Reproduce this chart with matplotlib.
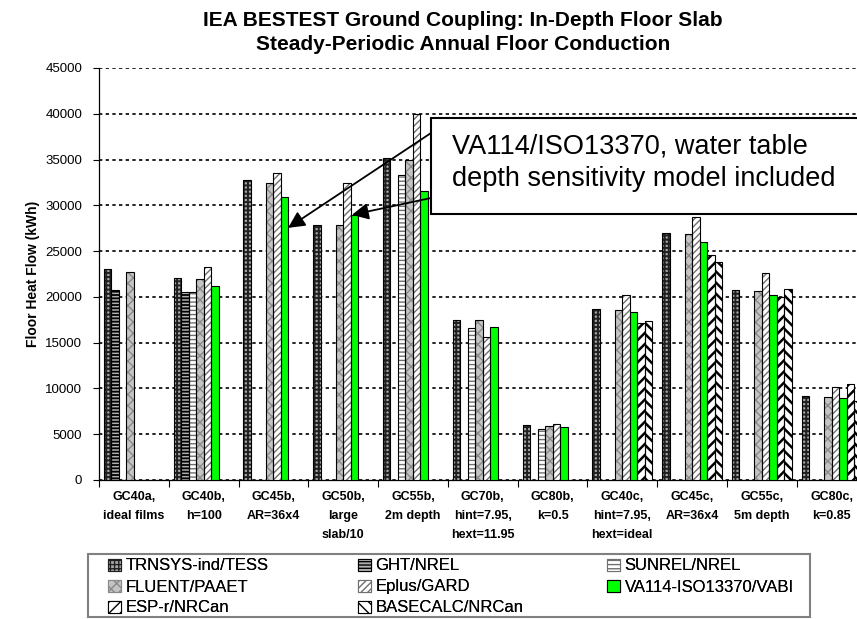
import numpy as np
import matplotlib
matplotlib.use("Agg")
import matplotlib.pyplot as plt
from matplotlib.patches import Patch, Rectangle

plt.rcParams['font.family'] = ['Liberation Sans', 'DejaVu Sans']
plt.rcParams['hatch.linewidth'] = 1.0

nan = np.nan
categories = ["GC40a,\nideal films", "GC40b,\nh=100", "GC45b,\nAR=36x4",
              "GC50b,\nlarge\nslab/10", "GC55b,\n2m depth",
              "GC70b,\nhint=7.95,\nhext=11.95", "GC80b,\nk=0.5",
              "GC40c,\nhint=7.95,\nhext=ideal", "GC45c,\nAR=36x4",
              "GC55c,\n5m depth", "GC80c,\nk=0.85"]

trnsys   = [23030, 22110, 32790, 27800, 35160, 17450, 5970, 18650, 26960, 20770, 9220]
ght      = [20770, 20550, nan, nan, nan, nan, nan, nan, nan, nan, nan]
sunrel   = [nan, 20550, nan, nan, 33260, 16580, 5610, nan, nan, nan, nan]
fluent   = [22770, 21930, 32460, 27800, 34970, 17450, 5870, 18540, 26890, 20660, 9070]
eplus    = [nan, 23240, 33480, 32420, 40000, 15590, 6120, 20220, 28710, 22590, 10160]
va114    = [nan, 21240, 30890, 28960, 31590, 16760, 5760, 18320, 25970, 20220, 8930]
espr     = [nan, nan, nan, nan, nan, nan, nan, 17120, 24550, 19960, 10460]
basecalc = [nan, nan, nan, nan, nan, nan, nan, 17340, 23860, 20870, 8630]

series_names = ["TRNSYS-ind/TESS", "GHT/NREL", "SUNREL/NREL", "FLUENT/PAAET",
                "Eplus/GARD", "VA114-ISO13370/VABI", "ESP-r/NRCan", "BASECALC/NRCan"]
series_vals = [trnsys, ght, sunrel, fluent, eplus, va114, espr, basecalc]

# (facecolor, hatch, hatchcolor, hatch linewidth)
styles = [
    ("#a8a8a8", "++++", "#202020", 1.4),
    ("#b0b0b0", "-----", "#000000", 1.3),
    ("#ffffff", "----", "#707070", 1.0),
    ("#c4c4c4", "xxx", "#8a8a8a", 1.0),
    ("#ffffff", "/////", "#707070", 1.0),
    ("#00ff00", None, "#000000", 1.0),
    ("#ffffff", "///", "#000000", 1.8),
    ("#ffffff", "\\\\\\", "#000000", 1.8),
]

W, H = 857, 619
fig = plt.figure(figsize=(W / 100, H / 100), dpi=100)
ax = fig.add_axes([99 / W, (H - 480) / H, 767.5 / W, 412 / H])

x = np.arange(len(categories))
bw = 0.1075
for i, (vals, (fc, hatch, hc, hlw)) in enumerate(zip(series_vals, styles)):
    pos = x + (i - 3.5) * bw
    v = np.array(vals, dtype=float)
    with plt.rc_context({'hatch.linewidth': hlw}):
        ax.bar(pos, v, width=bw, facecolor=fc, edgecolor=hc, hatch=hatch,
               linewidth=0, zorder=3)
    ax.bar(pos, v, width=bw, fill=False, edgecolor="black", linewidth=0.8, zorder=4)

ax.set_xlim(-0.5, len(categories) - 0.5)
ax.set_ylim(0, 45000)
ax.set_yticks(np.arange(0, 45001, 5000))
ax.yaxis.grid(True, linestyle=(0, (2, 2)), color="black", linewidth=1.2, zorder=0)
ax.set_axisbelow(True)
ax.tick_params(axis="y", direction="out", length=4, width=0.8, labelsize=9.5, pad=8)
ax.set_xticks(x)
ax.set_xticklabels(categories, fontsize=9, fontweight="bold", linespacing=1.75)
ax.set_xticks(np.arange(-0.5, len(categories), 1.0), minor=True)
ax.tick_params(axis="x", which="major", length=0, pad=8)
ax.tick_params(axis="x", which="minor", length=5, width=0.8, direction="out")
for s in ["top", "right"]:
    ax.spines[s].set_visible(False)
ax.spines["left"].set_linewidth(0.9)
ax.spines["bottom"].set_linewidth(0.9)

ax.set_ylabel("Floor Heat Flow (kWh)", fontsize=10, fontweight="bold", labelpad=4)

fig.text(463 / W, 1 - 21 / H, "IEA BESTEST Ground Coupling: In-Depth Floor Slab",
         ha="center", va="center", fontsize=15, fontweight="bold")
fig.text(463 / W, 1 - 45 / H, "Steady-Periodic Annual Floor Conduction",
         ha="center", va="center", fontsize=15, fontweight="bold")

# annotation box with arrows
fig.patches.append(Rectangle((431 / W, 1 - 214 / H), 440 / W, 96 / H,
                             transform=fig.transFigure, facecolor="white",
                             edgecolor="black", linewidth=1.5, zorder=10))
fig.text(452 / W, 1 - 163 / H,
         "VA114/ISO13370, water table\ndepth sensitivity model included",
         ha="left", va="center", fontsize=19.5, linespacing=1.33, zorder=11)
arrow_kw = dict(arrowstyle="-|>", mutation_scale=25, lw=1.3, color="black",
                shrinkA=0, shrinkB=0)
ax.annotate("", xy=(2.21, 27540), xycoords="data",
            xytext=(431 / W, 1 - 133 / H), textcoords="figure fraction",
            arrowprops=arrow_kw, zorder=9)
ax.annotate("", xy=(3.125, 28960), xycoords="data",
            xytext=(431 / W, 1 - 198 / H), textcoords="figure fraction",
            arrowprops=arrow_kw, zorder=9)

# legend: frame + three columns
fig.patches.append(Rectangle((88 / W, 1 - 617 / H), 722 / W, 63 / H,
                             transform=fig.transFigure, facecolor="white",
                             edgecolor="#808080", linewidth=1.5, zorder=1))
handles = []
for (fc, hatch, hc, hlw) in styles:
    with plt.rc_context({'hatch.linewidth': hlw}):
        handles.append(Patch(facecolor=fc, edgecolor=hc if hatch else "black",
                             hatch=hatch, linewidth=0.8))
columns = [[0, 3, 6], [1, 4, 7], [2, 5]]
col_x = [108, 358, 607]
for cx, idx in zip(col_x, columns):
    lg = fig.legend([handles[k] for k in idx], [series_names[k] for k in idx],
                    loc="upper left", bbox_to_anchor=(cx / W, 1 - 558.5 / H),
                    fontsize=12, frameon=False,
                    handlelength=0.75, handleheight=0.75, handletextpad=0.3,
                    labelspacing=0.36, borderpad=0.0, borderaxespad=0)
    fig.add_artist(lg)

fig.savefig("out.png", dpi=100)
